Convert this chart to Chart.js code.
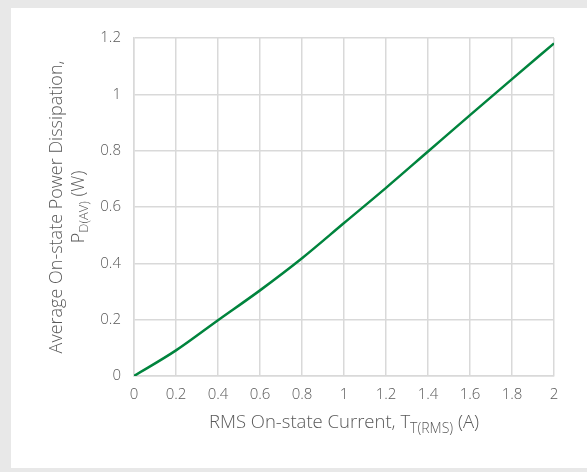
<!DOCTYPE html>
<html>
<head>
<meta charset="utf-8">
<script src="https://cdn.jsdelivr.net/npm/chart.js@4.4.1/dist/chart.umd.min.js"></script>
<style>
  html, body { margin: 0; padding: 0; }
  body { width: 587px; height: 472px; background: #e8e8e8; position: relative; overflow: hidden; }
  #panel { position: absolute; left: 11px; top: 8px; width: 576px; height: 460px; background: #fff; }
  #wrap { position: absolute; left: 0; top: 0; width: 587px; height: 472px; }
</style>
</head>
<body>
<div id="panel"></div>
<div id="wrap"><canvas id="chart"></canvas></div>
<script>
// RMS on-state current (A)
const currents = [0, 0.2, 0.4, 0.6, 0.8, 1.0, 1.2, 1.4, 1.6, 1.8, 2.0];
// Average on-state power dissipation (W)
const power = [0, 0.091, 0.198, 0.304, 0.418, 0.543, 0.668, 0.797, 0.926, 1.054, 1.181];

const xTitle = [{ t: 'RMS On-state Current, T' }, { t: 'T(RMS)', sub: true }, { t: ' (A)' }];
const yTitle1 = [{ t: 'Average On-state Power Dissipation,' }];
const yTitle2 = [{ t: 'P' }, { t: 'D(AV)', sub: true }, { t: ' (W)' }];

const FONT = "'Open Sans', 'Noto Sans', sans-serif";
const TEXT = '#595959';

// draws a run of text with subscript pieces, centred on (x, y)
function drawRich(ctx, parts, x, y, size) {
    const subSize = Math.round(size * 0.74);
    let w = 0;
    parts.forEach(p => {
        ctx.font = '300 ' + (p.sub ? subSize : size) + 'px ' + FONT;
        p.w = ctx.measureText(p.t).width;
        w += p.w;
    });
    let cx = x - w / 2;
    ctx.textBaseline = 'middle';
    ctx.textAlign = 'left';
    parts.forEach(p => {
        ctx.font = '300 ' + (p.sub ? subSize : size) + 'px ' + FONT;
        ctx.fillText(p.t, cx, p.sub ? y + size * 0.3 : y);
        cx += p.w;
    });
}

const titlePlugin = {
    id: 'richTitles',
    afterDraw(chart) {
        const ctx = chart.ctx;
        const a = chart.chartArea;
        ctx.save();
        ctx.fillStyle = TEXT;
        drawRich(ctx, xTitle, (a.left + a.right) / 2, 423, 18.5);
        const midY = (a.top + a.bottom) / 2;
        ctx.translate(57, midY);
        ctx.rotate(-Math.PI / 2);
        drawRich(ctx, yTitle1, 0, 0, 18);
        ctx.restore();
        ctx.save();
        ctx.fillStyle = TEXT;
        ctx.translate(79, midY);
        ctx.rotate(-Math.PI / 2);
        drawRich(ctx, yTitle2, 0, 0, 18);
        ctx.restore();
    }
};

new Chart(document.getElementById('chart'), {
    type: 'line',
    data: {
        labels: currents,
        datasets: [{
            label: 'Power Dissipation',
            data: currents.map((c, i) => ({ x: c, y: power[i] })),
            borderColor: '#00843d',
            borderWidth: 2.5,
            pointRadius: 0,
            fill: false,
            cubicInterpolationMode: 'monotone'
        }]
    },
    options: {
        responsive: true,
        maintainAspectRatio: false,
        animation: false,
        layout: { padding: { left: 0, right: 33, top: 38, bottom: 0 } },
        plugins: {
            legend: { display: false },
            tooltip: { enabled: false }
        },
        scales: {
            x: {
                type: 'linear',
                min: 0,
                max: 2,
                afterFit: s => { s.height = 96; },
                ticks: {
                    stepSize: 0.2,
                    color: TEXT,
                    padding: 10,
                    maxRotation: 0,
                    font: { family: FONT, size: 15, weight: 300 },
                    callback: v => Math.round(v * 10) / 10
                },
                grid: { color: '#d9d9d9', lineWidth: 1.5, drawTicks: false },
                border: { color: '#d9d9d9', width: 1.5 }
            },
            y: {
                min: 0,
                max: 1.2,
                afterFit: s => { s.width = 134; },
                ticks: {
                    stepSize: 0.2,
                    color: TEXT,
                    padding: 13,
                    font: { family: FONT, size: 15, weight: 300 },
                    callback: v => Math.round(v * 10) / 10
                },
                grid: { color: '#d9d9d9', lineWidth: 1.5, drawTicks: false },
                border: { color: '#d9d9d9', width: 1.5 }
            }
        }
    },
    plugins: [titlePlugin]
});
</script>
</body>
</html>
